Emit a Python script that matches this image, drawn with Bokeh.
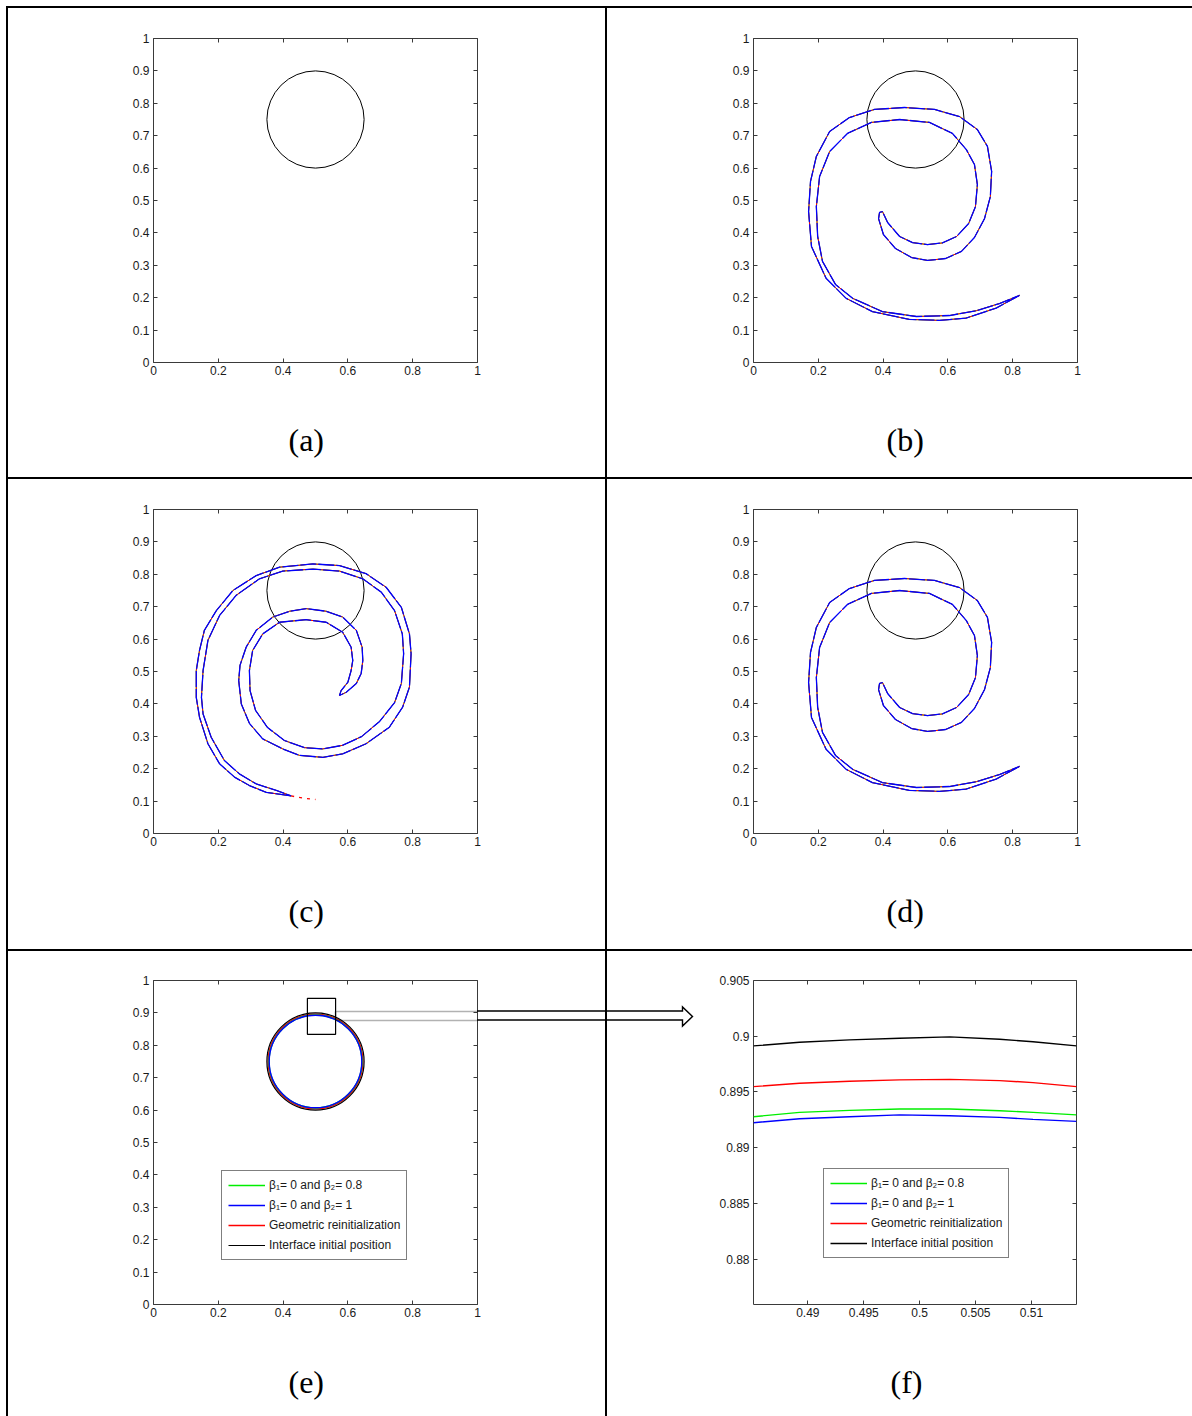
import numpy as np
from bokeh.plotting import figure
from bokeh.layouts import column, row
from bokeh.models import (Div, Spacer, Range1d, FixedTicker, LinearAxis, Legend, Title,
                          LegendItem, PolyAnnotation)
from bokeh.embed import file_html
from bokeh.resources import INLINE

# ---------------- data ----------------
circle_x = [0.5]
circle_y = [0.75]
circle_r = [0.15]
final_r_red = [0.1461]
final_r_green = [0.1435]
final_r_blue = [0.1429]

spiral_b_x = [0.821, 0.749, 0.656, 0.574, 0.481, 0.367, 0.286, 0.224, 0.179, 0.170, 0.176, 0.194,
              0.235, 0.296, 0.373, 0.466, 0.559, 0.636, 0.691, 0.722, 0.735, 0.731, 0.713, 0.682,
              0.642, 0.593, 0.537, 0.488, 0.438, 0.401, 0.386, 0.389, 0.398, 0.414, 0.451, 0.491,
              0.537, 0.583, 0.627, 0.664, 0.685, 0.691, 0.682, 0.657, 0.614, 0.543, 0.451, 0.364,
              0.290, 0.235, 0.204, 0.194, 0.198, 0.213, 0.253, 0.306, 0.398, 0.503, 0.605, 0.688,
              0.759, 0.821]
spiral_b_y = [0.207, 0.168, 0.137, 0.130, 0.133, 0.157, 0.198, 0.260, 0.358, 0.466, 0.559, 0.636,
              0.713, 0.756, 0.781, 0.787, 0.781, 0.759, 0.719, 0.667, 0.590, 0.512, 0.444, 0.386,
              0.343, 0.321, 0.315, 0.324, 0.352, 0.395, 0.444, 0.463, 0.466, 0.432, 0.389, 0.370,
              0.364, 0.369, 0.389, 0.429, 0.481, 0.549, 0.611, 0.657, 0.707, 0.741, 0.750, 0.741,
              0.707, 0.651, 0.574, 0.481, 0.389, 0.312, 0.241, 0.198, 0.157, 0.142, 0.145, 0.160,
              0.182, 0.207]

spiral_c_x = [0.425, 0.348, 0.296, 0.250, 0.204, 0.168, 0.142, 0.132, 0.132, 0.142, 0.157, 0.194,
              0.245, 0.317, 0.389, 0.492, 0.574, 0.656, 0.718, 0.765, 0.790, 0.795, 0.790, 0.769,
              0.728, 0.656, 0.584, 0.523, 0.451, 0.399, 0.337, 0.296, 0.271, 0.263, 0.267, 0.286,
              0.317, 0.368, 0.420, 0.471, 0.533, 0.584, 0.626, 0.644, 0.646, 0.641, 0.626, 0.595,
              0.574,
              0.579, 0.600, 0.610, 0.615, 0.610, 0.584, 0.533, 0.471, 0.389, 0.337, 0.306, 0.296,
              0.298, 0.315, 0.352, 0.404, 0.466, 0.522, 0.583, 0.642, 0.698, 0.744, 0.765, 0.772,
              0.768, 0.744, 0.703, 0.646, 0.574, 0.492, 0.399, 0.327, 0.255, 0.204, 0.168, 0.153,
              0.148, 0.153, 0.178, 0.219, 0.265, 0.317, 0.379, 0.425]
spiral_c_y = [0.116, 0.127, 0.148, 0.174, 0.215, 0.277, 0.359, 0.420, 0.503, 0.565, 0.627, 0.688,
              0.750, 0.796, 0.822, 0.832, 0.827, 0.802, 0.760, 0.698, 0.616, 0.555, 0.452, 0.390,
              0.328, 0.277, 0.246, 0.235, 0.241, 0.261, 0.292, 0.340, 0.400, 0.472, 0.519, 0.575,
              0.627, 0.668, 0.686, 0.694, 0.686, 0.668, 0.627, 0.575, 0.534, 0.494, 0.463, 0.436,
              0.426,
              0.441, 0.467, 0.503, 0.534, 0.575, 0.621, 0.652, 0.660, 0.652, 0.616, 0.565, 0.503,
              0.441, 0.380, 0.327, 0.287, 0.265, 0.261, 0.272, 0.299, 0.346, 0.404, 0.463, 0.555,
              0.616, 0.688, 0.745, 0.786, 0.810, 0.816, 0.810, 0.786, 0.735, 0.673, 0.596, 0.503,
              0.420, 0.369, 0.297, 0.225, 0.184, 0.153, 0.133, 0.116]
tail_red_c_x = [0.425, 0.445, 0.470, 0.500]
tail_red_c_y = [0.116, 0.112, 0.108, 0.105]

zoom_x = [0.48514, 0.48926, 0.49373, 0.49821, 0.50269, 0.50716, 0.51014, 0.51403]
zoom_black = [0.89913, 0.89946, 0.89967, 0.89982, 0.89994, 0.89973, 0.89950, 0.89913]
zoom_red = [0.89548, 0.89578, 0.89596, 0.89608, 0.89613, 0.89602, 0.89584, 0.89548]
zoom_green = [0.89278, 0.89317, 0.89335, 0.89347, 0.89347, 0.89332, 0.89317, 0.89294]
zoom_blue = [0.89224, 0.89260, 0.89278, 0.89294, 0.89287, 0.89272, 0.89254, 0.89236]

unit_xticks = [0, 0.2, 0.4, 0.6, 0.8, 1]
unit_xlabels = ["0", "0.2", "0.4", "0.6", "0.8", "1"]
unit_yticks = [0, 0.1, 0.2, 0.3, 0.4, 0.5, 0.6, 0.7, 0.8, 0.9, 1]
unit_ylabels = ["0", "0.1", "0.2", "0.3", "0.4", "0.5", "0.6", "0.7", "0.8", "0.9", "1"]
zoom_xticks = [0.49, 0.495, 0.5, 0.505, 0.51]
zoom_xlabels = ["0.49", "0.495", "0.5", "0.505", "0.51"]
zoom_yticks = [0.88, 0.885, 0.89, 0.895, 0.9, 0.905]
zoom_ylabels = ["0.88", "0.885", "0.89", "0.895", "0.9", "0.905"]

captions = ["(a)", "(b)", "(c)", "(d)", "(e)", "(f)"]
legend_labels = ["β₁= 0 and β₂= 0.8", "β₁= 0 and β₂= 1",
                 "Geometric reinitialization", "Interface initial position"]

# zoom box and arrow (annotation geometry)
zoom_box = dict(left=[0.475], right=[0.562], bottom=[0.834], top=[0.945])
arrow_e_x = [0.5617, 1.6296, 1.6296, 1.6605, 1.6296, 1.6296, 0.5617]
arrow_e_y = [0.9043, 0.9043, 0.9167, 0.8889, 0.8611, 0.8765, 0.8765]

# ---------------- styling ----------------
AX = "#3a3a3a"
TXT = "#1a1a1a"
FONT = "Liberation Sans"
GREEN, BLUE, RED = "#00ee00", "#0000ff", "#ff0000"


def style_axis(ax, ticks, labels, show):
    ax.ticker = FixedTicker(ticks=ticks, minor_ticks=[])
    ax.major_label_overrides = {t: l for t, l in zip(ticks, labels)}
    ax.major_tick_in = 4
    ax.major_tick_out = 0
    ax.minor_tick_in = 0
    ax.minor_tick_out = 0
    ax.major_tick_line_color = AX
    ax.major_tick_line_width = 1
    ax.axis_line_color = None
    ax.major_label_text_font = FONT
    ax.major_label_text_font_size = "12px"
    ax.major_label_text_color = TXT if show else None
    ax.major_label_standoff = 3


def make_fig(w, h, left, right, top, bottom, xr, yr, xt, xl, yt, yl, cap, cap_off):
    p = figure(width=w, height=h, x_range=Range1d(*xr), y_range=Range1d(*yr),
               output_backend="svg", toolbar_location=None,
               min_border_left=left, min_border_right=right,
               min_border_top=top, min_border_bottom=bottom)
    p.xgrid.visible = False
    p.ygrid.visible = False
    p.outline_line_color = AX
    p.outline_line_width = 1
    p.background_fill_color = "white"
    p.border_fill_color = "white"
    style_axis(p.below[0], xt, xl, True)
    style_axis(p.left[0], yt, yl, True)
    p.left[0].major_label_standoff = 4
    top_ax = LinearAxis()
    style_axis(top_ax, xt, xl, False)
    right_ax = LinearAxis()
    style_axis(right_ax, yt, yl, False)
    p.add_layout(top_ax, "above")
    p.add_layout(right_ax, "right")
    # caption: an empty first line pushes the visible line down without a big standoff
    p.add_layout(Title(text="\n" + cap, align="left", offset=cap_off, standoff=12,
                       text_font="Liberation Serif", text_font_size="32px",
                       text_font_style="normal", text_color="black"), "below")
    return p


def draw_spiral(p, xs, ys):
    p.line(xs, ys, line_color=GREEN, line_width=1)
    p.line(xs, ys, line_color=RED, line_width=1.0)
    p.line(xs, ys, line_color=BLUE, line_width=1.3, line_dash="16 2")


def draw_circle(p, r, color, width=1.4):
    return p.arc(x=circle_x, y=circle_y, radius=r, start_angle=0, end_angle=2 * np.pi,
                 line_color=color, line_width=width)


def make_legend(items, loc):
    return Legend(items=items, location=loc, border_line_color="black", border_line_width=1,
                  background_fill_color="white", background_fill_alpha=1.0,
                  label_text_font=FONT, label_text_font_size="12px", label_text_color=TXT,
                  glyph_width=37, glyph_height=16, label_height=16, label_standoff=4,
                  spacing=4, padding=6, margin=0)


U = (0, 1)
# row 1
pa = make_fig(597, 469, 145, 128, 30, 115, U, U, unit_xticks, unit_xlabels,
              unit_yticks, unit_ylabels, captions[0], 135)
draw_circle(pa, circle_r, "black", 1.0)

pb = make_fig(585, 469, 146, 115, 30, 115, U, U, unit_xticks, unit_xlabels,
              unit_yticks, unit_ylabels, captions[1], 133)
draw_circle(pb, circle_r, "black", 1.0)
draw_spiral(pb, spiral_b_x, spiral_b_y)

# row 2
pc = make_fig(597, 470, 145, 128, 30, 116, U, U, unit_xticks, unit_xlabels,
              unit_yticks, unit_ylabels, captions[2], 135)
draw_circle(pc, circle_r, "black", 1.0)
draw_spiral(pc, spiral_c_x, spiral_c_y)
pc.line(tail_red_c_x, tail_red_c_y, line_color=RED, line_width=1.3, line_dash="3 5")

pd = make_fig(585, 470, 146, 115, 30, 116, U, U, unit_xticks, unit_xlabels,
              unit_yticks, unit_ylabels, captions[3], 133)
draw_circle(pd, circle_r, "black", 1.0)
draw_spiral(pd, spiral_b_x, spiral_b_y)

# row 3
pe = make_fig(597, 465, 145, 128, 29, 112, U, U, unit_xticks, unit_xlabels,
              unit_yticks, unit_ylabels, captions[4], 135)
re_r = draw_circle(pe, final_r_red, RED)
re_g = draw_circle(pe, final_r_green, GREEN)
re_b = draw_circle(pe, final_r_blue, BLUE)
re_k = draw_circle(pe, circle_r, "black", 1.2)
pe.quad(fill_color=None, line_color="black", line_width=1.2, **zoom_box)
pe.add_layout(PolyAnnotation(xs=arrow_e_x, ys=arrow_e_y, fill_color=None,
                             line_color="black", line_width=1.6))
pe.add_layout(make_legend([LegendItem(label=legend_labels[0], renderers=[re_g]),
                           LegendItem(label=legend_labels[1], renderers=[re_b]),
                           LegendItem(label=legend_labels[2], renderers=[re_r]),
                           LegendItem(label=legend_labels[3], renderers=[re_k])], (68, 44)))

pf = make_fig(585, 465, 146, 116, 29, 112, (0.48514, 0.51403), (0.87593, 0.905),
              zoom_xticks, zoom_xlabels, zoom_yticks, zoom_ylabels, captions[5], 137)
rf_k = pf.line(zoom_x, zoom_black, line_color="black", line_width=1.4)
rf_r = pf.line(zoom_x, zoom_red, line_color=RED, line_width=1.4)
rf_g = pf.line(zoom_x, zoom_green, line_color=GREEN, line_width=1.4)
rf_b = pf.line(zoom_x, zoom_blue, line_color=BLUE, line_width=1.4)
pf.add_layout(make_legend([LegendItem(label=legend_labels[0], renderers=[rf_g]),
                           LegendItem(label=legend_labels[1], renderers=[rf_b]),
                           LegendItem(label=legend_labels[2], renderers=[rf_r]),
                           LegendItem(label=legend_labels[3], renderers=[rf_k])], (70, 46)))


# ---------------- table layout ----------------
LINE_STYLE = {"background-color": "black"}


def hline():
    return Div(text="", width=1186, height=2, margin=0, styles=LINE_STYLE)


def vline(h, html=""):
    st = dict(LINE_STYLE)
    if html:
        st.update({"position": "relative", "z-index": "10", "overflow": "visible"})
    return Div(text=html, width=2, height=h, margin=0, styles=st)


# outer part of the zoom arrow that leaves panel (e) and points into panel (f)
arrow_html = ('<svg xmlns="http://www.w3.org/2000/svg" width="230" height="32" '
              'style="position:absolute;left:-128px;top:50px;overflow:visible">'
              '<polyline points="0,10 205.5,10 205.5,6 215.5,15.5 205.5,25 205.5,19 0,19" '
              'fill="none" stroke="black" stroke-width="1.4"/></svg>')

table = column(
    hline(),
    row(vline(469), pa, vline(469), pb),
    hline(),
    row(vline(470), pc, vline(470), pd),
    hline(),
    row(vline(465), pe, vline(465, arrow_html), pf),
)
layout = column(Spacer(width=1192, height=6),
                row(Spacer(width=6, height=1410), table))

open("out.html", "w").write(file_html(layout, INLINE))
